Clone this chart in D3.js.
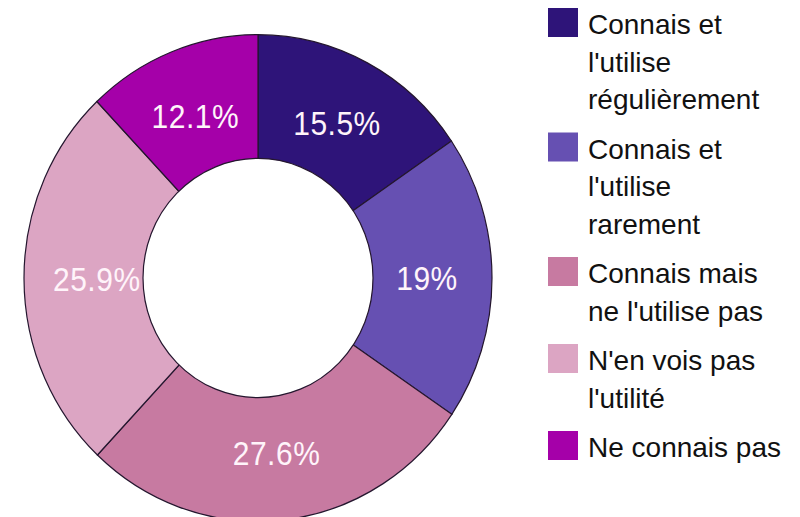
<!DOCTYPE html>
<html>
<head>
<meta charset="utf-8">
<script src="https://cdn.jsdelivr.net/npm/d3@7"></script>
<style>
  html, body { margin: 0; padding: 0; background: #ffffff; }
  svg { display: block; }
</style>
</head>
<body>
<svg id="chart" width="800" height="517"></svg>
<script>
const categories = [
  ["Connais et", "l'utilise", "régulièrement"],
  ["Connais et", "l'utilise", "rarement"],
  ["Connais mais", "ne l'utilise pas"],
  ["N'en vois pas", "l'utilité"],
  ["Ne connais pas"]
];
const values = [15.5, 19, 27.6, 25.9, 12.1];
const valueLabels = ["15.5%", "19%", "27.6%", "25.9%", "12.1%"];
const colors = ["#2e1479", "#6650b2", "#c77aa1", "#dca5c3", "#a500a9"];

const svg = d3.select("#chart");
const cx = 258, cy = 278, R = 234, r = 115, stretchY = 1.04;

const pie = d3.pie().sort(null).value(d => d)(values);
const arcFull = d3.arc().innerRadius(0).outerRadius(R);
const labelArc = d3.arc().innerRadius(169).outerRadius(169);

const g = svg.append("g").attr("transform", `translate(${cx},${cy}) scale(1,${stretchY})`);

g.selectAll("path.slice").data(pie).enter().append("path")
  .attr("class", "slice")
  .attr("d", arcFull)
  .attr("fill", (d, i) => colors[i])
  .attr("stroke", "#24162e")
  .attr("stroke-width", 1.2);

const fontSize = 30, textStretch = 1.12;
const labels = g.selectAll("text.lbl").data(pie).enter().append("text")
  .attr("class", "lbl")
  .attr("font-family", "'Liberation Sans', Arial, sans-serif")
  .attr("font-size", fontSize)
  .attr("fill", "#fff4fa")
  .attr("text-anchor", "middle")
  .attr("letter-spacing", 0.5)
  .text((d, i) => valueLabels[i]);

labels.each(function(d) {
  const w = this.getComputedTextLength();
  let [x, y] = labelArc.centroid(d);
  const maxX = R - 29 - w / 2;
  if (Math.abs(x) > maxX) x = Math.sign(x) * maxX;
  d3.select(this)
    .attr("transform", `translate(${x},${y}) scale(1,${textStretch / stretchY})`)
    .attr("dy", "0.38em");
});

g.append("circle")
  .attr("r", r)
  .attr("fill", "#ffffff")
  .attr("stroke", "#24162e")
  .attr("stroke-width", 1.2);

// Legend
const legend = svg.append("g").attr("transform", "translate(548,0)");
const lineH = 37.5, gap = 12;
let y = 8;
categories.forEach((lines, i) => {
  const item = legend.append("g").attr("transform", `translate(0,${y})`);
  item.append("rect")
    .attr("width", 30).attr("height", 29)
    .attr("fill", colors[i]);
  const t = item.append("text")
    .attr("x", 40)
    .attr("y", 26)
    .attr("font-family", "'Liberation Sans', Arial, sans-serif")
    .attr("font-size", 28)
    .attr("fill", "#111111");
  lines.forEach((ln, j) => {
    t.append("tspan").attr("x", 40).attr("dy", j === 0 ? 0 : lineH).text(ln);
  });
  y += lines.length * lineH + gap;
});
</script>
</body>
</html>
